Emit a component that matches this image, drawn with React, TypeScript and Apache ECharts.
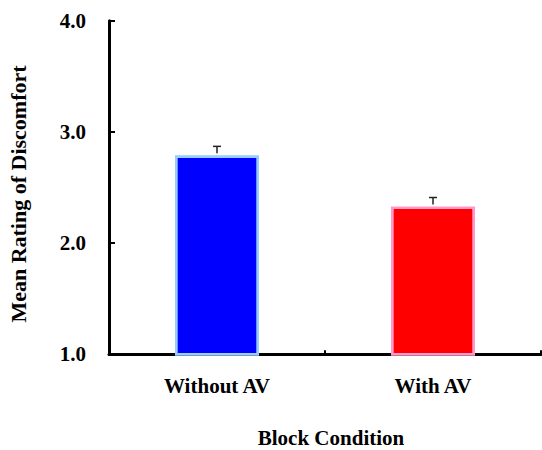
import React, { useEffect, useRef } from "react";
import * as echarts from "echarts";

const categories = ["Without AV", "With AV"];
const means = [2.79, 2.33];
const errors = [0.08, 0.08];
const barColors = ["#0000ff", "#ff0000"];
const borderColors = ["#99ccff", "#ff99cc"];
const yTicks = [1, 2, 3, 4];
const xTitle = "Block Condition";
const yTitle = "Mean Rating of Discomfort";

export default function App() {
  const ref = useRef<HTMLDivElement>(null);
  useEffect(() => {
    const chart = echarts.init(ref.current!, null, { renderer: "svg" });
    const font = "'Liberation Serif', 'Times New Roman', serif";
    chart.setOption({
      animation: false,
      grid: { left: 109, right: 1, top: 20.7, bottom: 95.7 },
      graphic: [
        {
          type: "text",
          x: 331,
          y: 438,
          style: {
            text: xTitle,
            fontFamily: font,
            fontWeight: "bold",
            fontSize: 21,
            fill: "#000",
            align: "center",
            verticalAlign: "middle",
          },
        },
        {
          type: "text",
          x: 18.5,
          y: 194,
          rotation: Math.PI / 2,
          style: {
            text: yTitle,
            fontFamily: font,
            fontWeight: "bold",
            fontSize: 22,
            fill: "#000",
            align: "center",
            verticalAlign: "middle",
          },
        },
      ],
      xAxis: {
        type: "category",
        data: categories,
        axisLine: { lineStyle: { color: "#000", width: 3 } },
        axisTick: { show: true, inside: true, length: 4, lineStyle: { color: "#000", width: 2 } },
        axisLabel: { fontFamily: font, fontWeight: "bold", fontSize: 21, color: "#000", margin: 21 },
      },
      yAxis: {
        type: "value",
        min: 1,
        max: 4,
        interval: 1,
        axisLine: { show: true, lineStyle: { color: "#000", width: 3 } },
        axisTick: { show: true, inside: true, length: 6, lineStyle: { color: "#000", width: 2 } },
        splitLine: { show: false },
        axisLabel: {
          fontFamily: font,
          fontWeight: "bold",
          fontSize: 21,
          color: "#000",
          margin: 23,
          formatter: (v: number) => (yTicks.includes(v) ? v.toFixed(1) : ""),
        },
      },
      series: [
        {
          type: "bar",
          barWidth: 84,
          data: means.map((v, i) => ({
            value: v,
            itemStyle: { color: barColors[i], borderColor: borderColors[i], borderWidth: 2.7 },
          })),
          z: 2,
        },
        {
          type: "custom",
          data: means.map((v, i) => [i, v, v + errors[i]]),
          z: 3,
          renderItem: (params: any, api: any) => {
            const x = api.value(0);
            const lo = api.coord([x, api.value(1)]);
            const hi = api.coord([x, api.value(2)]);
            const cap = 4;
            return {
              type: "group",
              children: [
                {
                  type: "line",
                  shape: { x1: lo[0], y1: lo[1] - 2, x2: hi[0], y2: hi[1] },
                  style: { stroke: "#222", lineWidth: 1.5 },
                },
                {
                  type: "line",
                  shape: { x1: hi[0] - cap, y1: hi[1], x2: hi[0] + cap, y2: hi[1] },
                  style: { stroke: "#222", lineWidth: 1.5 },
                },
              ],
            };
          },
        },
      ],
    });
    return () => chart.dispose();
  }, []);
  return (
    <div
      ref={ref}
      style={{ position: "absolute", left: 0, top: 0, width: 542, height: 450 }}
    />
  );
}
